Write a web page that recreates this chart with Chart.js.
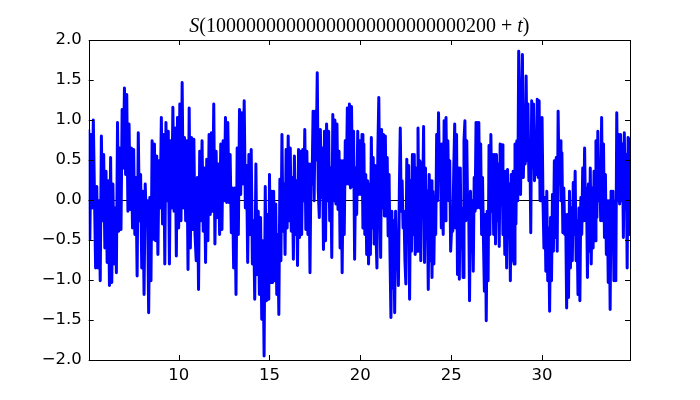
<!DOCTYPE html>
<html>
<head>
<meta charset="utf-8">
<script src="https://cdn.jsdelivr.net/npm/chart.js@4"></script>
<style>
    html, body { margin: 0; padding: 0; background: #fff; }
    canvas { display: block; }
</style>
</head>
<body>
<canvas id="chart" width="700" height="400"></canvas>
<script>
// values of S(T + t), one array per stretch of t
const sVals1 = [0.88,-0.49,0.82,-0.10,1.00,0.07,-0.85,0.17,-0.85,-0.01,-1.01,0.80,-0.26,0.57,-0.60,0.36,-0.78,0.24,-1.07,0.53,-1.03,0.20,-0.80,-0.10,-0.91,0.97,-0.39,0.65,-0.37,1.13,0.40,1.40,0.32,1.32,-0.14,0.95,-0.12,0.65,-0.35,0.63,-0.43,0.28,-0.95,0.84,-0.26,0.32,-0.85,0.11,-1.18,0.20,-0.26,-0.01,-1.41,0.03,-1.01,0.74,-0.49,0.70,-0.51,0.55,-0.68,0.49,-0.10,1.03,-0.30,0.82,-0.80,0.97,-0.01,0.86,-0.80,0.74,-0.10,1.16,-0.14,0.90,-0.70,1.03,-0.35];
const sVals2 = [-0.35,1.20,-0.26,1.47,-0.10,0.78,-0.26,0.74,-0.87,1.15,-0.60,0.78,-0.37,0.76,-0.43,-0.76,0.28,-1.12,0.61,-0.26,0.74,-0.39,0.40,-0.78,0.51,-0.51,0.82,-0.18,0.84,-0.14,1.20,-0.55,0.61,-0.22,0.45,-0.43,0.70,-0.37,0.74,-0.01,1.03,-0.03,0.97,-0.03,0.57,-0.41,0.15,-0.85,0.15,-1.18,0.65,-0.43,1.13,0.07,1.09,0.20,1.24,-0.10,0.43,-0.78,0.57,-0.43,0.63,-0.80,-0.26,-1.24,0.45,-0.93,-0.14,-1.18,-0.22,-1.49,-0.51,-1.95,0.17,-1.26,-0.18,-1.24];
const sVals3 = [0.32,-1.03,0.11,-1.03,0.11,-1.01,-0.05,-1.18,-0.43,-1.43,0.26,-0.76,0.82,-0.39,0.20,-0.68,0.63,-0.35,0.80,-0.26,0.65,-0.39,0.28,-0.74,0.55,-0.43,0.24,-0.82,0.63,-0.47,0.61,-0.43,0.63,-0.01,0.88,-0.37,0.61,-0.43,0.45,-0.91,0.45,0.20,1.11,-0.01,1.11,0.50,1.59,0.11,-0.22,0.88,0.03,0.65,-0.62,0.86,-0.51,0.95,-0.01,0.86,-0.26,0.40,-0.72,1.07,-0.01,1.00,-0.05,0.95,-0.12,0.61,-0.60,0.49,-0.91,0.49,-0.43,0.74,0.20,1.15,0.20,1.20,0.15,1.17,0.17,0.86,-0.74,0.40,-0.18,0.86,0.07,0.74];
const sVals4 = [0.07,0.82,-0.35,0.70,-0.43,0.32,-0.68,0.24,-0.80,0.20,-0.68,0.78,-0.35,0.53,-0.55,0.43,-0.41,-0.85,0.63,1.28,0.11,-0.72,0.88,-0.10,0.82,-0.20,0.80,-0.20,0.53,-0.45,0.32,-0.68,-1.47,-0.14,-1.10,-0.26,-1.41,-0.14,-0.85,-0.43,-1.07,0.11,0.90,-0.14,0.24,-0.35,-0.14,-0.76,-1.05,0.51,-0.43,0.43,-1.24,0.24,-0.64,0.57,-0.43,0.57,-0.68,0.40,-0.64,0.90,-0.43,0.49,-0.76,0.47,-0.01,0.92,-0.78,0.40,-0.43,0.11,-1.12,0.32,-0.76,0.24,-0.97,0.11,-0.80,0.05,-0.43,0.82,-0.01,1.09,0.32,0.70,-0.35,0.70,-0.43,0.99,-0.26,1.03,0.11,0.74,-0.01,0.49,-0.64];
const sVals5 = [-0.26,-0.39,0.40,0.95,-0.35,0.82,-0.93,0.40,-0.99,0.40,-0.60,-0.10,-0.97,0.74,0.99,-0.26,0.74,-0.18,0.07,-1.26,0.11,-0.64,-0.01,-0.89,0.28,-0.14,0.97,-0.10,0.70,0.97,-0.10,0.70,-0.43,0.28,-0.51,-1.14,-0.18,-1.51,-0.14,-1.01,0.68,-0.43,0.82,-0.14,0.57,-0.43,0.57,-0.55,0.57,-0.26,0.45,-0.58,0.70,-0.05,0.69,-0.43,0.32,-0.68,0.36,-0.85,0.38,-0.47,0.20,-1.01,0.32,-0.76,0.36,-0.80,0.70,-0.30,0.74,-0.01,1.86,0.82,0.07,1.07,1.82,0.28,1.03,0.45,1.55,0.49,1.20,0.24,0.74,-0.41,1.24,0.40,1.20,0.24,0.70,0.32,1.26,0.28,1.24,-0.01,0.40];
const sVals6 = [1.03,-0.01,-0.60,0.03,-0.89,0.11,-1.01,-0.35,-1.39,-0.22,-1.01,0.07,-0.64,0.49,-0.47,0.53,-0.64,1.11,0.20,0.74,-0.01,0.59,-0.41,0.15,-0.43,-0.18,-1.35,-0.18,-1.22,0.11,-0.85,-0.10,-0.76,0.22,-0.43,0.36,-0.76,-0.26,-1.18,-0.10,-1.26,0.03,-0.43,0.40,-0.26,0.65,-0.26,0.15,-0.97,0.20,-0.64,0.40,-0.80,0.15,-0.60,0.36,-0.51,0.74,-0.22,0.86,-0.01,0.49,-0.26,1.03,-0.26,0.70,-0.47,0.32,-0.68,-0.01,-1.03,-0.01,-1.37,0.11,-0.47,0.11,-1.01,-0.01,-1.01,1.09,-0.01,0.82,-0.05,0.82,-0.01,0.70,-0.47,0.84,-0.10,0.57,-0.85,0.78,-0.43,0.78];

// t range covered by each array above (samples are spread evenly inside)
const segStart = [5.05, 10.0, 15.0, 20.04, 25.04, 30.0];
const segEnd = [10.0, 14.96, 19.97, 24.97, 29.94, 34.84];

const xTicks = [10, 15, 20, 25, 30];
const yTicks = [-2.0, -1.5, -1.0, -0.5, 0.0, 0.5, 1.0, 1.5, 2.0];
const xMin = 5.05, xMax = 34.84;

const titleNumber = '10000000000000000000000000200';

/**
 * Build {x, y} points for the line from the segment arrays
 */
function buildPoints() {
    const segs = [sVals1, sVals2, sVals3, sVals4, sVals5, sVals6];
    const pts = [];
    segs.forEach((vals, k) => {
        const step = (segEnd[k] - segStart[k]) / (vals.length - 1);
        vals.forEach((v, i) => pts.push({ x: segStart[k] + i * step, y: v }));
    });
    return pts;
}

const tickFont = { family: 'DejaVu Sans', size: 16.5 };

// zero line, drawn crisp behind the curve
const zeroLinePlugin = {
    id: 'zeroLine',
    beforeDatasetsDraw(chart) {
        const { ctx, chartArea: a, scales } = chart;
        const py = Math.round(scales.y.getPixelForValue(0)) + 0.5;
        ctx.save();
        ctx.strokeStyle = '#000';
        ctx.lineWidth = 1;
        ctx.beginPath();
        ctx.moveTo(a.left, py);
        ctx.lineTo(a.right, py);
        ctx.stroke();
        ctx.restore();
    }
};

// axes frame and inward ticks on all four sides, like matplotlib classic
const framePlugin = {
    id: 'frame',
    afterDatasetsDraw(chart) {
        const { ctx, chartArea: a, scales } = chart;
        const len = 5;
        ctx.save();
        ctx.strokeStyle = '#000';
        ctx.lineWidth = 1;
        ctx.beginPath();
        xTicks.forEach(v => {
            const px = Math.round(scales.x.getPixelForValue(v)) + 0.5;
            ctx.moveTo(px, a.bottom); ctx.lineTo(px, a.bottom - len);
            ctx.moveTo(px, a.top); ctx.lineTo(px, a.top + len);
        });
        yTicks.forEach(v => {
            const py = Math.round(scales.y.getPixelForValue(v)) + 0.5;
            ctx.moveTo(a.left, py); ctx.lineTo(a.left + len, py);
            ctx.moveTo(a.right, py); ctx.lineTo(a.right - len, py);
        });
        ctx.stroke();
        ctx.strokeRect(Math.round(a.left) + 0.5, Math.round(a.top) + 0.5,
            Math.round(a.right - a.left), Math.round(a.bottom - a.top));
        ctx.restore();
    }
};

// mathtext-style title: italic S and t, upright digits
const titlePlugin = {
    id: 'mathTitle',
    afterDraw(chart) {
        const { ctx, chartArea: a } = chart;
        const parts = [
            { text: 'S', font: 'italic 20px "Liberation Serif"' },
            { text: '(' + titleNumber, font: '20px "Liberation Serif"' },
            { text: ' + ', font: '20px "Liberation Serif"' },
            { text: 't', font: 'italic 20px "Liberation Serif"' },
            { text: ')', font: '20px "Liberation Serif"' }
        ];
        ctx.save();
        ctx.fillStyle = '#000';
        ctx.textBaseline = 'alphabetic';
        let total = 0;
        parts.forEach(p => { ctx.font = p.font; p.w = ctx.measureText(p.text).width; total += p.w; });
        let x = (a.left + a.right) / 2 - total / 2;
        parts.forEach(p => {
            ctx.font = p.font;
            ctx.fillText(p.text, x, 32);
            x += p.w;
        });
        ctx.restore();
    }
};

new Chart(document.getElementById('chart'), {
    type: 'line',
    data: {
        datasets: [
            {
                data: buildPoints(),
                borderColor: '#0000ff',
                borderWidth: 3,
                borderJoinStyle: 'round',
                pointRadius: 0,
                tension: 0
            }
        ]
    },
    options: {
        responsive: false,
        animation: false,
        events: [],
        layout: { padding: { left: 0, right: 70, top: 40, bottom: 0 } },
        scales: {
            x: {
                type: 'linear',
                min: xMin,
                max: xMax,
                afterFit: s => { s.height = 40; },
                afterBuildTicks: s => { s.ticks = xTicks.map(v => ({ value: v })); },
                grid: { display: false, drawTicks: false },
                border: { display: false },
                ticks: { font: tickFont, color: '#000', padding: 6, maxRotation: 0, autoSkip: false }
            },
            y: {
                min: -2,
                max: 2,
                afterFit: s => { s.width = 88.7; },
                afterBuildTicks: s => { s.ticks = yTicks.map(v => ({ value: v })); },
                grid: { display: false, drawTicks: false },
                border: { display: false },
                ticks: {
                    font: tickFont, color: '#000', padding: 7,
                    callback: v => v.toFixed(1).replace('-', '\u2212')
                }
            }
        },
        plugins: {
            legend: { display: false },
            tooltip: { enabled: false },
            title: { display: false }
        }
    },
    plugins: [zeroLinePlugin, framePlugin, titlePlugin]
});
</script>
</body>
</html>
